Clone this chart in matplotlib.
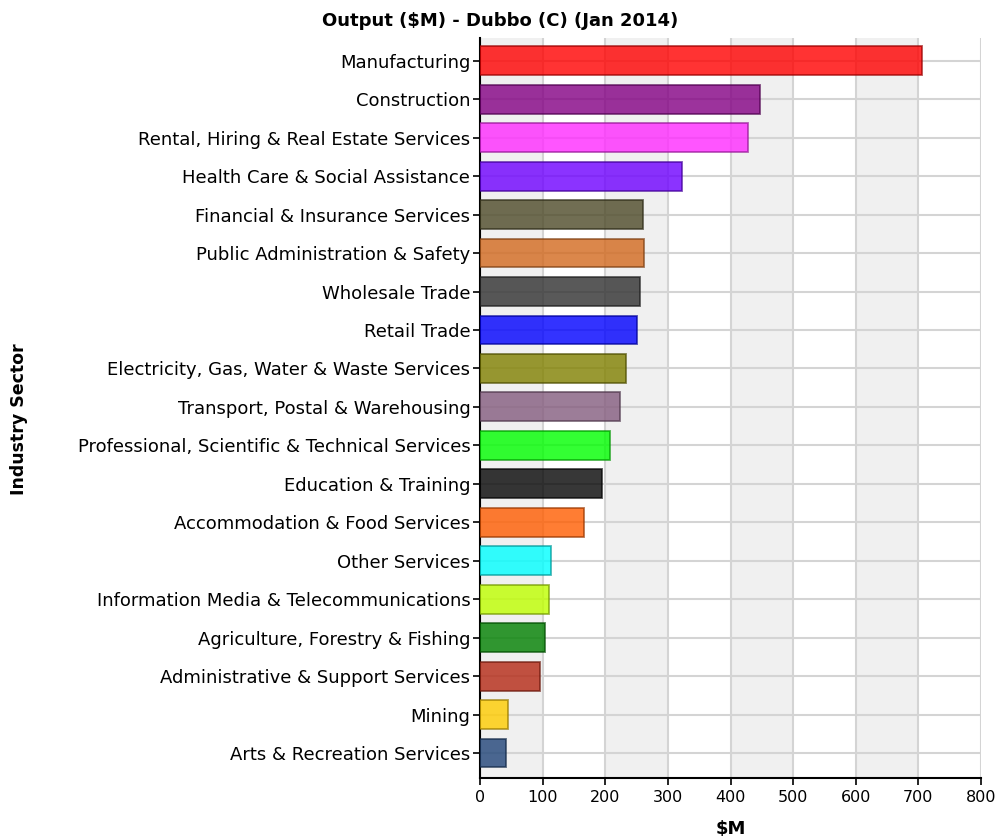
import numpy as np
import matplotlib
matplotlib.use("Agg")
import matplotlib.pyplot as plt
from matplotlib.colors import to_rgb

# データ（上から順）
sectors = [
    "Manufacturing",
    "Construction",
    "Rental, Hiring & Real Estate Services",
    "Health Care & Social Assistance",
    "Financial & Insurance Services",
    "Public Administration & Safety",
    "Wholesale Trade",
    "Retail Trade",
    "Electricity, Gas, Water & Waste Services",
    "Transport, Postal & Warehousing",
    "Professional, Scientific & Technical Services",
    "Education & Training",
    "Accommodation & Food Services",
    "Other Services",
    "Information Media & Telecommunications",
    "Agriculture, Forestry & Fishing",
    "Administrative & Support Services",
    "Mining",
    "Arts & Recreation Services",
]
output_m = [705, 447, 428, 323, 261, 262, 255, 251, 233, 224,
            208, 195, 166, 113, 110, 104, 96, 45, 41]
bar_colors = [
    "#ff0000", "#830083", "#ff2aff", "#6e00ff", "#4d4a28",
    "#d2691e", "#303030", "#0000ff", "#808000", "#845c7e",
    "#00ff00", "#050505", "#ff5c00", "#00ffff", "#bfff00",
    "#008000", "#b42814", "#ffcc00", "#204478",
]
x_ticks = [0, 100, 200, 300, 400, 500, 600, 700, 800]

plt.rcParams['font.family'] = ['DejaVu Sans']

fig = plt.figure(figsize=(10, 8.38), dpi=100)
ax = fig.add_axes([0.48, 0.0716, 0.501, 0.8834])

y = np.arange(len(sectors))

# 交互の背景帯
for i in range(0, len(x_ticks) - 1, 2):
    ax.axvspan(x_ticks[i], x_ticks[i + 1], color="#f0f0f0", zorder=0, lw=0)

face = [(*to_rgb(c), 0.8) for c in bar_colors]
edge = [(*(np.array(to_rgb(c)) * 0.6), 0.7) for c in bar_colors]
ax.barh(y, output_m, height=0.75, color=face, edgecolor=edge,
        linewidth=1.3, zorder=3)

ax.set_xlim(0, 800)
ax.set_ylim(len(sectors) - 0.35, -0.6)
ax.set_xticks(x_ticks)
ax.set_yticks(y)
ax.set_yticklabels(sectors, fontsize=13)
ax.tick_params(axis='x', labelsize=11.5, length=5, width=1.2)
ax.tick_params(axis='y', length=5, width=1.2, pad=2)

ax.grid(True, color="#d4d4d4", linewidth=1.5, zorder=1)
ax.set_axisbelow(True)

for side in ["top", "right"]:
    ax.spines[side].set_visible(False)
for side in ["left", "bottom"]:
    ax.spines[side].set_linewidth(1.5)

ax.set_xlabel("$M", fontsize=13, fontweight="bold", labelpad=11)
fig.text(0.019, 0.5, "Industry Sector", rotation=90, fontsize=12.5,
         fontweight="bold", ha="center", va="center")
fig.text(0.5, 0.975, "Output ($M) - Dubbo (C) (Jan 2014)", fontsize=13,
         fontweight="bold", ha="center", va="center")

fig.savefig("out.png", dpi=100)
